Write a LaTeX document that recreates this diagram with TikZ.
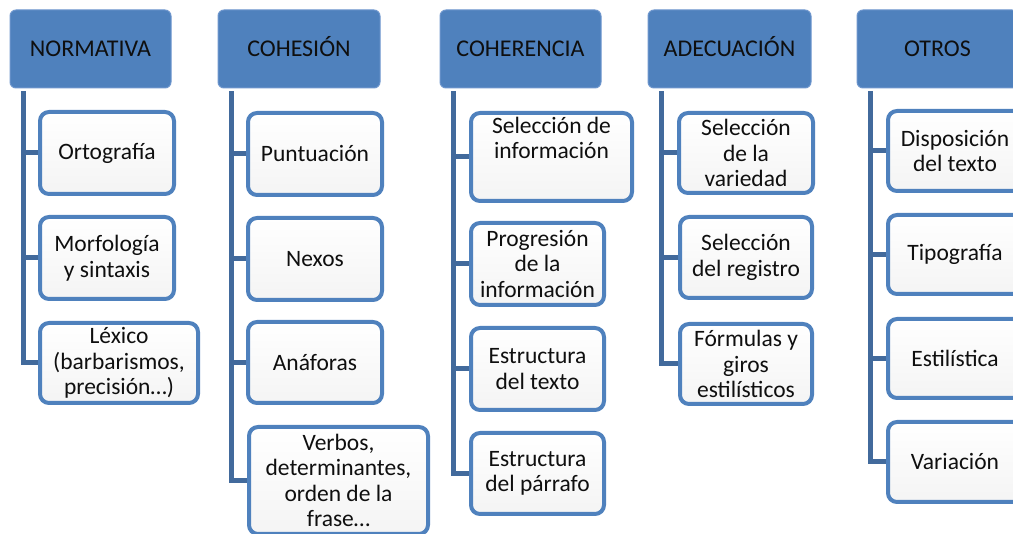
\documentclass[tikz,border=0pt]{standalone}
\usepackage{fontspec}
\setmainfont{Carlito}
\definecolor{bblue}{RGB}{79,129,189}
\definecolor{hblue}{RGB}{79,129,189}
\definecolor{hedge}{RGB}{110,150,205}
\definecolor{cblue}{RGB}{66,106,156}
\definecolor{cbot}{RGB}{244,244,244}
\definecolor{txt}{RGB}{15,15,15}
\tikzset{
  hdr/.style={draw=hedge, line width=1pt, fill=hblue, rounded corners=6pt,
    inner sep=0pt, minimum width=#1, minimum height=78pt, text=txt,
    text height=16pt, text depth=0pt,
    font=\fontsize{24}{26}\selectfont},
  child/.style={draw=bblue, line width=4pt, rounded corners=9pt,
    top color=white, bottom color=cbot, inner sep=0pt, align=center, text=txt,
    font=\fontsize{23.5}{25.5}\selectfont},
  conn/.style={draw=cblue, line width=5pt, line join=miter},
}
\begin{document}
\begin{tikzpicture}[x=1pt,y=-1pt]
\useasboundingbox (0,0) rectangle (1013,534);
\clip (0,0) rectangle (1013,534);
% headers
\node[hdr=161pt] (h1) at (90.5,49) {NORMATIVA};
\node[hdr=162pt] (h2) at (299,49) {COHESIÓN};
\node[hdr=161pt] (h3) at (520.5,49) {COHERENCIA};
\node[hdr=163pt] (h4) at (729.5,49) {ADECUACIÓN};
\node[hdr=161pt] (h5) at (937.5,49) {OTROS};
% NORMATIVA
\node[child, minimum width=134pt, minimum height=82pt] (c11) at (107,153) {Ortografía};
\node[child, minimum width=134pt, minimum height=82pt] (c12) at (107,258) {Morfología\\y sintaxis};
\node[child, minimum width=158pt, minimum height=80pt] (c13) at (119,363) {Léxico\\(barbarismos,\\precisión…)};
% COHESION
\node[child, minimum width=134pt, minimum height=82pt] (c21) at (315,154) {Puntuación};
\node[child, minimum width=134pt, minimum height=82pt] (c22) at (315,259) {Nexos};
\node[child, minimum width=134pt, minimum height=81pt] (c23) at (315,362.5) {Anáforas};
\node[child, minimum width=179pt, minimum height=107pt] (c24) at (338.5,480.5) {Verbos,\\determinantes,\\orden de la\\frase…};
% COHERENCIA
\node[child, minimum width=161pt, minimum height=88pt,
  label={[anchor=north, yshift=-3pt, align=center, text=txt, font=\fontsize{23.5}{25}\selectfont]north:Selección de\\información}] (c31) at (551.5,157) {};
\node[child, minimum width=133pt, minimum height=82pt] (c32) at (537.5,264) {Progresión\\de la\\información};
\node[child, minimum width=133pt, minimum height=82pt] (c33) at (537.5,369) {Estructura\\del texto};
\node[child, minimum width=133pt, minimum height=81pt] (c34) at (537.5,473.5) {Estructura\\del párrafo};
% ADECUACION
\node[child, minimum width=134pt, minimum height=80pt] (c41) at (746,153) {Selección\\de la\\variedad};
\node[child, minimum width=132pt, minimum height=81pt] (c42) at (746,257.5) {Selección\\del registro};
\node[child, minimum width=132pt, minimum height=80pt] (c43) at (746,364) {Fórmulas y\\giros\\estilísticos};
% OTROS
\node[child, minimum width=134pt, minimum height=80pt] (c51) at (955,151) {Disposición\\del texto};
\node[child, minimum width=134pt, minimum height=79pt] (c52) at (955,254.5) {Tipografía};
\node[child, minimum width=134pt, minimum height=79pt] (c53) at (955,358.5) {Estilística};
\node[child, minimum width=134pt, minimum height=80pt] (c54) at (955,462) {Variación};
% connectors
\foreach \h/\cs in {h1/{c11,c12,c13}, h2/{c21,c22,c23,c24}, h3/{c31,c32,c33,c34}, h4/{c41,c42,c43}, h5/{c51,c52,c53,c54}}{
  \foreach \c in \cs {
    \draw[conn] ([xshift=14pt,yshift=-3pt]\h.south west) |- (\c.west);
  }
}
\end{tikzpicture}
\end{document}
